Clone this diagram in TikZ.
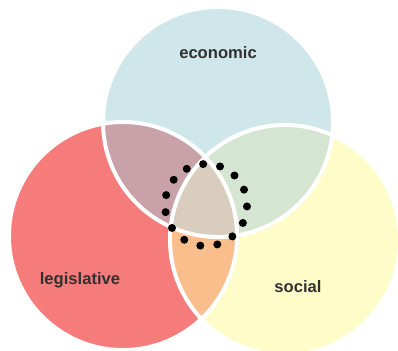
\documentclass[tikz,border=0pt]{standalone}
\usepackage{fontspec}
\setmainfont{Liberation Sans}
\usetikzlibrary{calc}
\definecolor{cblue}{RGB}{207,231,235}
\definecolor{cred}{RGB}{245,124,122}
\definecolor{cyellow}{RGB}{254,253,201}
\definecolor{cmauve}{RGB}{201,162,169}
\definecolor{cgreen}{RGB}{212,229,209}
\definecolor{corange}{RGB}{249,190,140}
\definecolor{cbeige}{RGB}{217,205,190}
\definecolor{ctext}{RGB}{50,48,50}
\tikzset{
  lbl/.style={font=\fontsize{11.8}{14}\selectfont\bfseries, text=ctext, inner sep=0pt},
  gap/.style={draw=white, line width=0.1cm},
  dot/.style={circle, fill=black, inner sep=0pt, minimum size=0.2cm}
}
\begin{document}
\begin{tikzpicture}[x=0.025cm,y=0.025cm]
\useasboundingbox (0,0) rectangle (398,-350);
\clip (0,0) rectangle (398,-350);
\def\topc{(218,-122) circle[radius=2.875cm]}
\def\leftc{(123,-236) circle[radius=2.85cm]}
\def\rightc{(285,-240) circle[radius=2.875cm]}
\fill[cblue] \topc;
\fill[cred] \leftc;
\fill[cyellow] \rightc;
\begin{scope}\clip \topc; \fill[cmauve] \leftc; \end{scope}
\begin{scope}\clip \topc; \fill[cgreen] \rightc; \end{scope}
\begin{scope}\clip \leftc; \fill[corange] \rightc; \end{scope}
\begin{scope}\clip \topc; \clip \leftc; \fill[cbeige] \rightc; \end{scope}
\draw[gap] \topc;
\draw[gap] \leftc;
\draw[gap] \rightc;
\coordinate (ring) at (206,-205);
\foreach \i in {0,...,14} {
  \node[dot] (d\i) at ($(ring)+({94-24*\i}:1.025cm)$) {};
}
\node[lbl] (econ) at (218,-53) {economic};
\node[lbl] (legis) at (80,-280) {legislative};
\node[lbl] (soc) at (298,-287) {social};
\end{tikzpicture}
\end{document}
